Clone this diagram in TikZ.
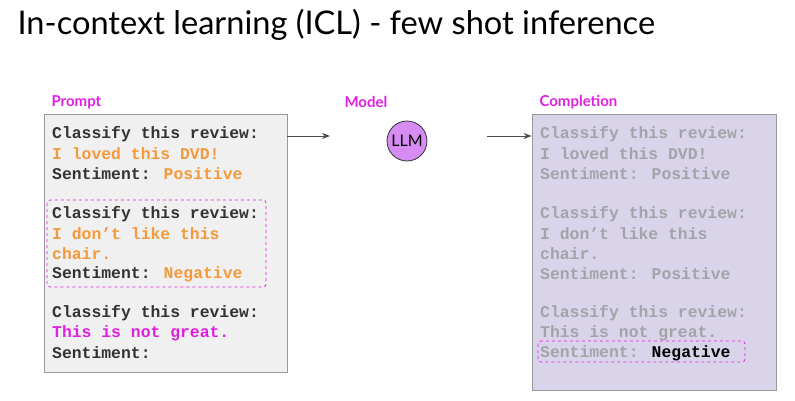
\documentclass[tikz,border=0pt]{standalone}
\usepackage{fontspec}
\setmainfont{Lato}
\newfontfamily\codefont{Liberation Mono}
\usetikzlibrary{arrows.meta,positioning}
\definecolor{magentaLbl}{HTML}{E020E0}
\definecolor{orangeTxt}{HTML}{F39A3C}
\definecolor{grayTxt}{HTML}{A3A3A8}
\definecolor{llmFill}{HTML}{D68CF2}
\definecolor{complFill}{HTML}{DAD4EA}
\begin{document}
\begin{tikzpicture}[
      x=1pt, y=-1pt,
      box_st/.style={
         draw=gray!80,
         line width=0.8pt,
         inner sep=0pt},
      head_lbl/.style={
         anchor=west,
         font=\fontsize{15}{15}\selectfont\bfseries,
         text=magentaLbl},
      code_line/.style={
         anchor=west,
         inner sep=0pt,
         font=\codefont\fontsize{16.4}{16.4}\selectfont\bfseries},
      dash_box/.style={
         draw=magentaLbl,
         line width=0.8pt,
         dashed,
         rounded corners=3pt},
      arrow_gray/.style={
         -{Stealth[length=8pt,width=6pt]},
         draw=black!70,
         line width=1pt}
]
      \useasboundingbox (0,0) rectangle (795,400);
      %title
      \node[anchor=west,font=\fontsize{32.6}{32.6}\selectfont] (title) at (14,25) {In-context learning (ICL) - few shot inference};

      %boxes
      \node[box_st,fill=black!6,minimum width=243pt,minimum height=258pt] (prompt) at (165.5,243) {};
      \node[box_st,fill=complFill,minimum width=244pt,minimum height=276pt] (compl) at (654,252) {};
      \node[circle,draw=black!80,line width=0.8pt,fill=llmFill,minimum size=40pt,inner sep=0pt,font=\fontsize{16}{16}\selectfont] (llm) at (407,141) {LLM};

      \node[head_lbl] (promptlbl) at (48,102) {Prompt};
      \node[head_lbl] (modellbl) at (341,102) {Model};
      \node[head_lbl] (compllbl) at (536,102) {Completion};

      \draw[dash_box] (47,200) rectangle (266,287);
      \draw[dash_box] (538,341) rectangle (745,362);

      \coordinate (p_out) at (330,136);
      \coordinate (c_in) at (487,136);
      \draw[arrow_gray] (prompt.east |- p_out) -- (p_out);
      \draw[arrow_gray] (c_in) -- (compl.west |- c_in);

      \foreach \y/\txt in {% y/text
        134/{Classify this review:},
        154/{\color{orangeTxt}I loved this DVD!},
        174/{Sentiment: \color{orangeTxt}Positive},
        214/{Classify this review:},
        234/{\color{orangeTxt}I don’t like this},
        254/{\color{orangeTxt}chair.},
        274/{Sentiment: \color{orangeTxt}Negative},
        313/{Classify this review:},
        333/{\color{magentaLbl}This is not great.},
        353/{Sentiment:}}
        \node[code_line,text=black!80] at (52,\y) {\txt};

      \foreach \y/\txt in {% y/text
        134/{Classify this review:},
        154/{I loved this DVD!},
        174/{Sentiment: Positive},
        214/{Classify this review:},
        234/{I don’t like this},
        254/{chair.},
        274/{Sentiment: Positive},
        313/{Classify this review:},
        333/{This is not great.},
        353/{Sentiment: \color{black}Negative}}
        \node[code_line,text=grayTxt] at (540,\y) {\txt};
\end{tikzpicture}
\end{document}
